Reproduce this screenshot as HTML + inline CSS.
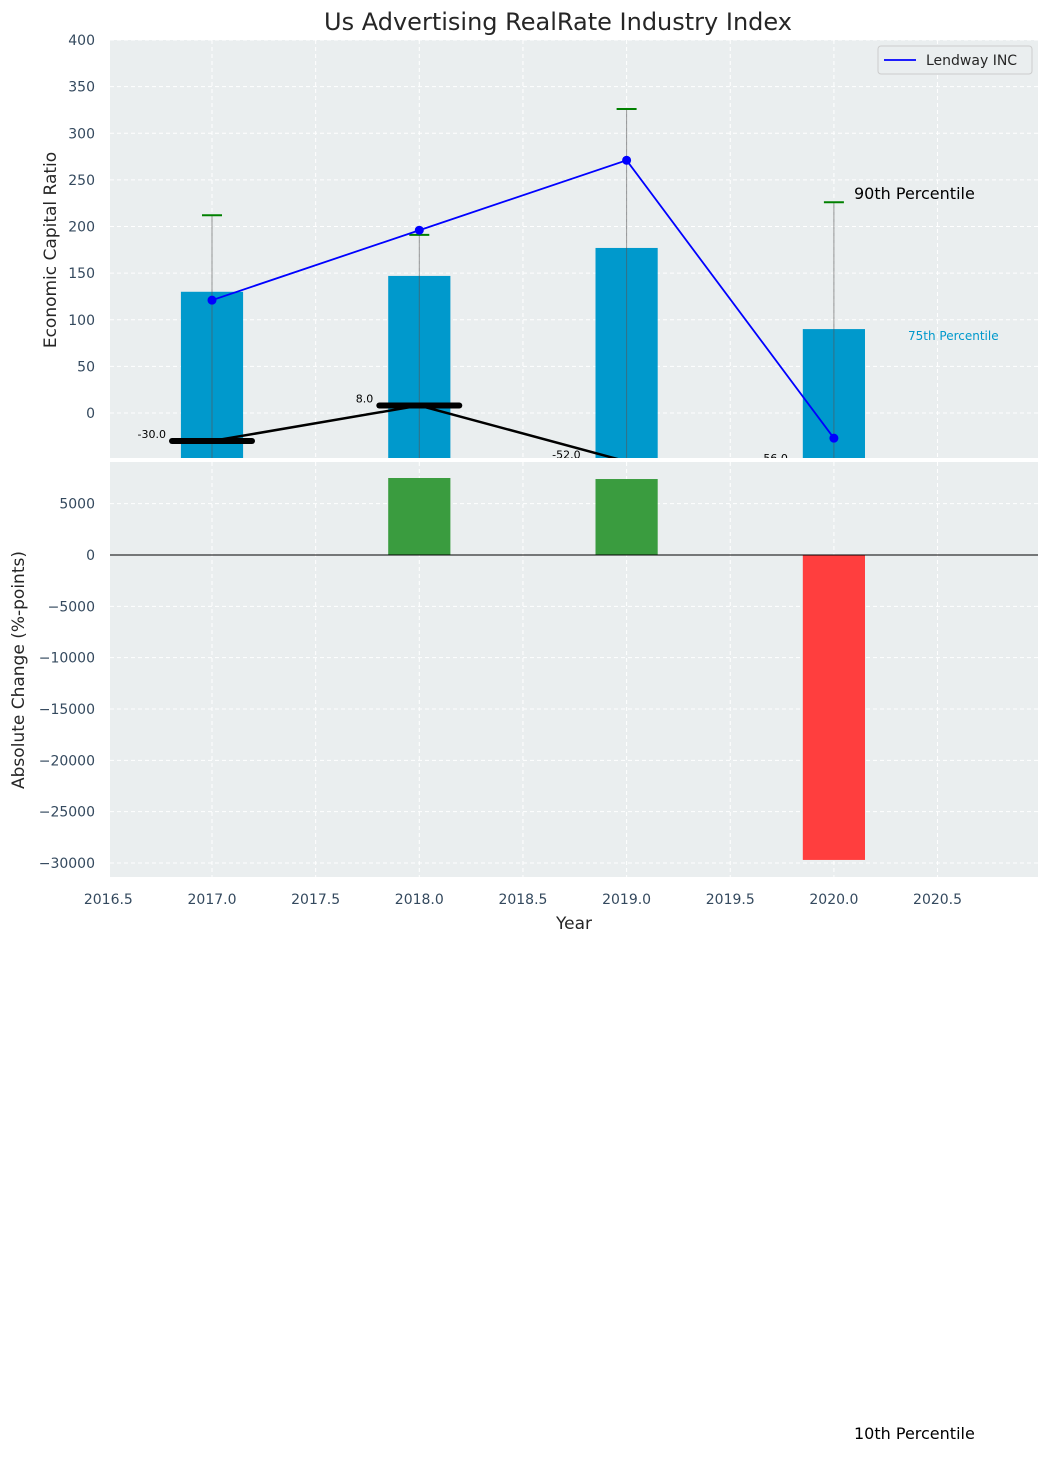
<!DOCTYPE html>
<html><head><meta charset="utf-8"><style>
body{margin:0;background:#fff;}
svg text{font-family:"DejaVu Sans","Liberation Sans",sans-serif;}
</style></head><body>
<svg id="chart" width="1048" height="1452" xmlns="http://www.w3.org/2000/svg">
<rect x="0" y="0" width="1048" height="1452" fill="#ffffff"/>
<text x="558" y="30" font-size="24" fill="#262626" text-anchor="middle">Us Advertising RealRate Industry Index</text>
<g id="topg"></g>
<g id="botg"></g>
</svg>
<script>
const years=[2017,2018,2019,2020];
const barVals=[130,147,177,90];
const errTops=[212,191,326,226];
const lineVals=[121,196,271,-27];
const blackVals=[-30,8,-52,-56];
const changeVals=[0,7500,7400,-29700];
const topTicks=[0,50,100,150,200,250,300,350,400];
const botTicks=[5000,0,-5000,-10000,-15000,-20000,-25000,-30000];
const xTicks=[2016.5,2017,2017.5,2018,2018.5,2019,2019.5,2020,2020.5];

const NS='http://www.w3.org/2000/svg';
function mk(p,t,a){const e=document.createElementNS(NS,t);for(const k in a)e.setAttribute(k,a[k]);p.appendChild(e);return e;}
const L=110,R=1038;
const x=v=>212+(v-2017)*207.3;
const yT=v=>413-v*0.9325;
const yB=v=>555-v*0.010267;
const topG=document.getElementById('topg'),botG=document.getElementById('botg');

let bg=mk(topG,'rect',{x:L,y:40,width:R-L,height:418,fill:'#eaeeef'});


let cp=mk(topG,'clipPath',{id:'ct'});mk(cp,'rect',{x:L,y:40,width:R-L,height:418});
let cpb=mk(botG,'clipPath',{id:'cb'});mk(cpb,'rect',{x:L,y:462,width:R-L,height:415});
xTicks.forEach(t=>{mk(topG,'line',{x1:x(t),x2:x(t),y1:40,y2:458,stroke:'#fff','stroke-dasharray':'4,3','stroke-width':1});});
topTicks.forEach(t=>{
 mk(topG,'line',{x1:L,x2:R,y1:yT(t),y2:yT(t),stroke:'#fff','stroke-dasharray':'4,3','stroke-width':1});
 const tx=mk(topG,'text',{x:95,y:yT(t)+5,'font-size':14,fill:'#34495e','text-anchor':'end'});tx.textContent=t;
 
 
});
const gT=mk(topG,'g',{'clip-path':'url(#ct)'});
years.forEach((yr,i)=>{
 const b=mk(gT,'rect',{x:x(yr-0.15),y:yT(barVals[i]),width:207.3*0.3,height:458-yT(barVals[i]),fill:'#0099cc'});
 
 
 mk(gT,'line',{x1:x(yr),x2:x(yr),y1:yT(errTops[i]),y2:458,stroke:'#555',opacity:0.6,'stroke-width':1});
 const c=mk(gT,'line',{x1:x(yr)-10,x2:x(yr)+10,y1:yT(errTops[i]),y2:yT(errTops[i]),stroke:'green','stroke-width':2});
 
 
});
let pts=years.map((yr,i)=>x(yr)+','+yT(blackVals[i])).join(' ');
const bl=mk(gT,'polyline',{points:pts,fill:'none',stroke:'#000','stroke-width':2.5});


years.forEach((yr,i)=>{
 const m=mk(gT,'line',{x1:x(yr)-40,x2:x(yr)+40,y1:yT(blackVals[i]),y2:yT(blackVals[i]),stroke:'#000','stroke-width':6,'stroke-linecap':'round'});
 
 
 const t=mk(gT,'text',{x:x(yr)-46,y:yT(blackVals[i])-3,'font-size':11,fill:'#000','text-anchor':'end'});t.textContent=blackVals[i].toFixed(1);
 
 
});
pts=years.map((yr,i)=>x(yr)+','+yT(lineVals[i])).join(' ');
const ln=mk(gT,'polyline',{points:pts,fill:'none',stroke:'#0000ff','stroke-width':1.8});


years.forEach((yr,i)=>{
 const d=mk(gT,'circle',{cx:x(yr),cy:yT(lineVals[i]),r:4.5,fill:'#0000ff'});
 
 
});
let t90=mk(topG,'text',{x:854,y:199,'font-size':16,fill:'#000'});t90.textContent='90th Percentile';


let t75=mk(topG,'text',{x:908,y:340,'font-size':12,fill:'#0099cc'});t75.textContent='75th Percentile';


const lg=mk(topG,'g',{});


mk(lg,'rect',{x:878,y:46,width:154,height:28,rx:3,fill:'#eaeeef',stroke:'#ccc'});
mk(lg,'line',{x1:884,x2:916,y1:60,y2:60,stroke:'#0000ff','stroke-width':1.8});
let lt=mk(lg,'text',{x:926,y:65,'font-size':14,fill:'#262626'});lt.textContent='Lendway INC';


let yl=mk(topG,'text',{x:0,y:0,'font-size':17,fill:'#262626','text-anchor':'middle',transform:'translate(56,250) rotate(-90)'});yl.textContent='Economic Capital Ratio';



bg=mk(botG,'rect',{x:L,y:462,width:R-L,height:415,fill:'#eaeeef'});


xTicks.forEach(t=>{
 mk(botG,'line',{x1:x(t),x2:x(t),y1:462,y2:877,stroke:'#fff','stroke-dasharray':'4,3','stroke-width':1});
 const tx=mk(botG,'text',{x:x(t),y:904,'font-size':14,fill:'#34495e','text-anchor':'middle'});tx.textContent=t.toFixed(1);
 
 
});
botTicks.forEach(t=>{
 mk(botG,'line',{x1:L,x2:R,y1:yB(t),y2:yB(t),stroke:'#fff','stroke-dasharray':'4,3','stroke-width':1});
 const tx=mk(botG,'text',{x:95,y:yB(t)+5,'font-size':14,fill:'#34495e','text-anchor':'end'});tx.textContent=String(t).replace('-','\u2212');
 
 
});
const gB=mk(botG,'g',{'clip-path':'url(#cb)'});
years.forEach((yr,i)=>{
 const v=changeVals[i];if(v===0)return;
 const y0=Math.min(yB(v),yB(0)),h=Math.abs(yB(v)-yB(0));
 const b=mk(gB,'rect',{x:x(yr-0.15),y:y0,width:207.3*0.3,height:h,fill:v>0?'#3a9c3f':'#ff3e3e'});
 
 
});
mk(botG,'line',{x1:L,x2:R,y1:yB(0),y2:yB(0),stroke:'#000','stroke-width':1});
let xl=mk(botG,'text',{x:574,y:929,'font-size':17,fill:'#262626','text-anchor':'middle'});xl.textContent='Year';


yl=mk(botG,'text',{x:0,y:0,'font-size':17,fill:'#262626','text-anchor':'middle',transform:'translate(24,670) rotate(-90)'});yl.textContent='Absolute Change (%-points)';


let t10=mk(botG,'text',{x:854,y:1439,'font-size':16,fill:'#000'});t10.textContent='10th Percentile';


</script>
</body></html>
